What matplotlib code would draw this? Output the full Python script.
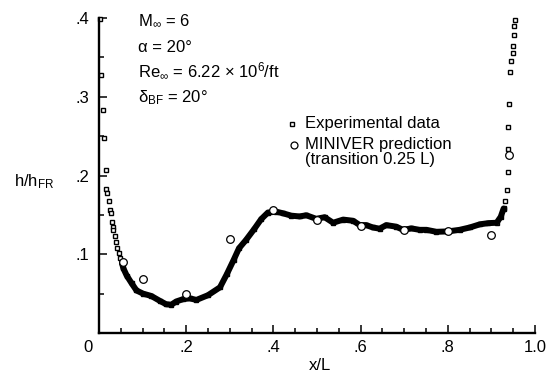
import numpy as np
import matplotlib
matplotlib.use('Agg')
from matplotlib import pyplot as plt
import matplotlib.transforms as mtransforms
from matplotlib.ticker import MultipleLocator

plt.rcParams['font.family'] = ['Liberation Sans', 'DejaVu Sans']
plt.rcParams['mathtext.fontset'] = 'custom'
plt.rcParams['mathtext.rm'] = 'Liberation Sans'
plt.rcParams['mathtext.it'] = 'Liberation Sans:italic'
plt.rcParams['mathtext.bf'] = 'Liberation Sans:bold'

exp_x = np.array([0.002, 0.005, 0.010, 0.012, 0.015, 0.017, 0.019, 0.0225, 0.025, 0.027,
                  0.029, 0.031, 0.032, 0.036, 0.038, 0.0415, 0.045, 0.049, 0.0525, 0.056,
                  0.0635, 0.075, 0.086, 0.101, 0.120, 0.139, 0.154, 0.166, 0.177, 0.193,
                  0.208, 0.2235, 0.250, 0.2775, 0.293, 0.309, 0.321, 0.337, 0.356, 0.372,
                  0.3875, 0.407, 0.422, 0.441, 0.460, 0.4755, 0.498, 0.5175, 0.537, 0.560,
                  0.583, 0.598, 0.613, 0.628, 0.6435, 0.659, 0.682, 0.697, 0.7165, 0.7355,
                  0.751, 0.774, 0.8005, 0.827, 0.8505, 0.8735, 0.893, 0.912, 0.9214, 0.928,
                  0.930, 0.932, 0.935, 0.937, 0.938, 0.9385, 0.941, 0.943, 0.945, 0.949,
                  0.949, 0.952, 0.952, 0.953])
exp_y = np.array([0.399, 0.328, 0.283, 0.248, 0.207, 0.183, 0.178, 0.168, 0.156, 0.152,
                  0.1415, 0.135, 0.131, 0.1226, 0.116, 0.108, 0.1016, 0.095, 0.089, 0.082,
                  0.073, 0.063, 0.054, 0.050, 0.047, 0.041, 0.0365, 0.036, 0.040, 0.043,
                  0.044, 0.042, 0.048, 0.058, 0.0745, 0.093, 0.1075, 0.118, 0.132, 0.1446,
                  0.153, 0.154, 0.152, 0.149, 0.148, 0.1495, 0.145, 0.147, 0.140, 0.144,
                  0.1425, 0.137, 0.137, 0.134, 0.1325, 0.137, 0.135, 0.131, 0.1328, 0.131,
                  0.131, 0.1285, 0.129, 0.131, 0.134, 0.138, 0.1395, 0.140, 0.1475, 0.158,
                  0.159, 0.168, 0.182, 0.204, 0.234, 0.261, 0.291, 0.332, 0.345, 0.356,
                  0.365, 0.378, 0.390, 0.398])

# MINIVER prediction (transition 0.25 L)
miniver_x = np.array([0.055, 0.10, 0.20, 0.30, 0.40, 0.50, 0.60, 0.70, 0.80, 0.90, 0.94])
miniver_y = np.array([0.090, 0.069, 0.049, 0.120, 0.156, 0.144, 0.136, 0.131, 0.129, 0.125, 0.226])

xticks = [0, 0.2, 0.4, 0.6, 0.8, 1.0]
xtick_labels = ['0', '.2', '.4', '.6', '.8', '1.0']
yticks = [0.1, 0.2, 0.3, 0.4]
ytick_labels = ['.1', '.2', '.3', '.4']

W, H = 551, 372
fig = plt.figure(figsize=(W / 100, H / 100), dpi=100)
ax = fig.add_axes([99 / W, 39 / H, 436 / W, 315 / H])

# dense run of points shows as a thick black band
dense = (exp_x >= 0.052) & (exp_x <= 0.929)
ax.plot(exp_x, exp_y, ls='none', marker='s', ms=3.2, mfc='white', mec='k', mew=1.0,
        clip_on=False, zorder=2)
ax.plot(exp_x[dense], exp_y[dense], color='k', lw=4.3, solid_capstyle='round', zorder=3)
ax.plot(miniver_x, miniver_y, ls='none', marker='o', ms=5.5, mfc='white', mec='k', mew=0.9,
        clip_on=False, zorder=4)

fs = 12
ax.set_xlim(0, 1.0)
ax.set_ylim(0, 0.4)
ax.set_xticks(xticks)
ax.set_xticklabels(xtick_labels)
ax.set_yticks(yticks)
ax.set_yticklabels(ytick_labels)
ax.xaxis.set_minor_locator(MultipleLocator(0.05))
ax.yaxis.set_minor_locator(MultipleLocator(0.05))
ax.tick_params(which='both', direction='in', width=1.1, labelsize=fs, top=False, right=False)
ax.tick_params(which='major', length=6)
ax.tick_params(which='minor', length=3.5)
ax.tick_params(axis='y', pad=7)
ax.tick_params(axis='x', pad=5)
for s in ['top', 'right']:
    ax.spines[s].set_visible(False)
for s in ['left', 'bottom']:
    ax.spines[s].set_linewidth(1.7)

# the shared origin label sits left of the corner
lab0 = ax.xaxis.get_major_ticks()[0].label1
lab0.set_transform(lab0.get_transform() + mtransforms.ScaledTranslation(-0.11, 0, fig.dpi_scale_trans))

fig.text(14 / W, 1 - 186 / H, r'h/h$_{\rm FR}$', fontsize=fs, va='baseline', ha='left')
fig.text(320 / W, 1 - 370 / H, 'x/L', fontsize=fs, va='baseline', ha='center')

fig.text(138 / W, 1 - 25 / H, r'M$_\infty$ = 6', fontsize=fs, va='baseline')
fig.text(138 / W, 1 - 52 / H, 'α = 20°', fontsize=fs, va='baseline')
fig.text(138 / W, 1 - 77 / H, r'Re$_\infty$ = 6.22 × 10$^6$/ft', fontsize=fs, va='baseline')
fig.text(138 / W, 1 - 102 / H, r'δ$_{\rm BF}$ = 20°', fontsize=fs, va='baseline')

# legend drawn by hand
fig.lines.append(plt.Line2D([292 / W], [1 - 124 / H], transform=fig.transFigure, ls='none',
                            marker='s', ms=3.2, mfc='white', mec='k', mew=1.0))
fig.lines.append(plt.Line2D([294 / W], [1 - 145 / H], transform=fig.transFigure, ls='none',
                            marker='o', ms=5, mfc='white', mec='k', mew=0.9))
fig.text(305 / W, 1 - 128 / H, 'Experimental data', fontsize=fs, va='baseline')
fig.text(305 / W, 1 - 149 / H, 'MINIVER prediction', fontsize=fs, va='baseline')
fig.text(305 / W, 1 - 164 / H, '(transition 0.25 L)', fontsize=fs, va='baseline')

fig.savefig('out.png', dpi=100)
